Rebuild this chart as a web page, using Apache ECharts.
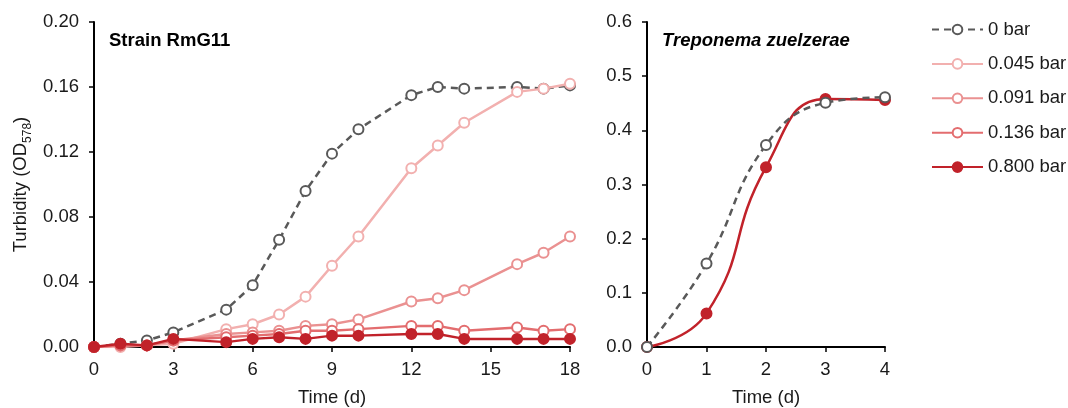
<!DOCTYPE html>
<html>
<head>
<meta charset="utf-8">
<script src="https://cdn.jsdelivr.net/npm/echarts@6/dist/echarts.min.js"></script>
<style>html,body{margin:0;padding:0;background:#fff}#c{width:1068px;height:408px}</style>
</head>
<body>
<div id="c"></div>
<script>
// Left panel: Strain RmG11
const days = [0, 1, 2, 3, 5, 6, 7, 8, 9, 10, 12, 13, 14, 16, 17, 18];
const od0   = [0.000, 0.002, 0.004, 0.009, 0.023, 0.038, 0.066, 0.096, 0.119, 0.134, 0.155, 0.160, 0.159, 0.160, 0.159, 0.161];
const od045 = [0.000, 0.000, 0.001, 0.002, 0.011, 0.014, 0.020, 0.031, 0.050, 0.068, 0.110, 0.124, 0.138, 0.157, 0.159, 0.162];
const od091 = [0.000, 0.001, 0.001, 0.004, 0.008, 0.009, 0.010, 0.013, 0.014, 0.017, 0.028, 0.030, 0.035, 0.051, 0.058, 0.068];
const od136 = [0.000, 0.001, 0.001, 0.004, 0.006, 0.007, 0.008, 0.010, 0.010, 0.011, 0.013, 0.013, 0.010, 0.012, 0.010, 0.011];
const od800 = [0.000, 0.002, 0.001, 0.005, 0.003, 0.005, 0.006, 0.005, 0.007, 0.007, 0.008, 0.008, 0.005, 0.005, 0.005, 0.005];
// Right panel: Treponema zuelzerae
const tdays = [0, 1, 2, 3, 4];
const tz0   = [0.000, 0.154, 0.373, 0.451, 0.461];
const tz800 = [0.000, 0.062, 0.332, 0.458, 0.456];
// Legend / series names
const names = ['0 bar', '0.045 bar', '0.091 bar', '0.136 bar', '0.800 bar'];
const colors = ['#595959', '#F2B0AF', '#EA9191', '#E36D6F', '#C1222A'];

const FONT = 'Liberation Sans, Arial, sans-serif';
const FS = 18.5;
const pair = (xs, ys) => xs.map((x, i) => [x, ys[i]]);

function lineSeries(idx, xi, xs, ys, opts) {
  const c = colors[idx];
  const filled = idx === 4;
  return Object.assign({
    name: names[idx],
    type: 'line',
    xAxisIndex: xi, yAxisIndex: xi,
    data: pair(xs, ys),
    symbol: 'circle',
    symbolSize: 10,
    showSymbol: true,
    lineStyle: { color: c, width: 2.5, type: idx === 0 ? [7, 5] : 'solid' },
    itemStyle: { color: filled ? c : '#fff', borderColor: c, borderWidth: 2 },
    emphasis: { disabled: true },
    animation: false
  }, opts || {});
}

const axisCommon = {
  axisLine: { show: true, lineStyle: { color: '#000', width: 2 } },
  axisTick: { show: true, inside: false, length: 5, lineStyle: { color: '#000', width: 1.5 } },
  splitLine: { show: false },
  axisLabel: { color: '#1a1a1a', fontSize: FS, fontFamily: FONT },
  nameTextStyle: { color: '#1a1a1a', fontSize: FS, fontFamily: FONT }
};

const chart = echarts.init(document.getElementById('c'));
chart.setOption({
  backgroundColor: '#fff',
  animation: false,
  textStyle: { fontFamily: FONT },
  title: [
    { text: 'Strain RmG11', left: 104, top: 26,
      textStyle: { fontSize: FS, fontWeight: 'bold', color: '#000', fontFamily: FONT } },
    { text: 'Treponema zuelzerae', left: 657, top: 26,
      textStyle: { fontSize: FS, fontWeight: 'bold', fontStyle: 'italic', color: '#000', fontFamily: FONT } }
  ],
  legend: {
    orient: 'vertical',
    left: 931, top: 20, padding: 0,
    itemWidth: 51, itemHeight: 12, itemGap: 15.4,
    data: names,
    textStyle: { color: '#1a1a1a', fontSize: FS, fontFamily: FONT },
    selectedMode: false
  },
  grid: [
    { left: 94, top: 22, width: 476, height: 325, outerBoundsMode: 'none', containLabel: false },
    { left: 647, top: 22, width: 238, height: 325, outerBoundsMode: 'none', containLabel: false }
  ],
  xAxis: [
    Object.assign({}, axisCommon, {
      gridIndex: 0, type: 'value', min: 0, max: 18, interval: 3,
      name: 'Time (d)', nameLocation: 'middle', nameGap: 41,
      axisLabel: Object.assign({}, axisCommon.axisLabel, { margin: 13 })
    }),
    Object.assign({}, axisCommon, {
      gridIndex: 1, type: 'value', min: 0, max: 4, interval: 1,
      name: 'Time (d)', nameLocation: 'middle', nameGap: 41,
      axisLabel: Object.assign({}, axisCommon.axisLabel, { margin: 13 })
    })
  ],
  yAxis: [
    Object.assign({}, axisCommon, {
      gridIndex: 0, type: 'value', min: 0, max: 0.2, interval: 0.04,
      axisLabel: Object.assign({}, axisCommon.axisLabel, { margin: 15, formatter: v => v.toFixed(2) }),
      name: '{a|Turbidity (OD}{b|578}{a|)}', nameLocation: 'middle', nameRotate: 90, nameGap: 64,
      nameTextStyle: {
        rich: {
          a: { fontSize: FS, color: '#1a1a1a', fontFamily: FONT, lineHeight: 22, verticalAlign: 'bottom' },
          b: { fontSize: 12, color: '#1a1a1a', fontFamily: FONT, lineHeight: 22, verticalAlign: 'bottom', padding: [0, 0, -4, 0] }
        }
      }
    }),
    Object.assign({}, axisCommon, {
      gridIndex: 1, type: 'value', min: 0, max: 0.6, interval: 0.1,
      axisLabel: Object.assign({}, axisCommon.axisLabel, { margin: 15, formatter: v => v.toFixed(1) })
    })
  ],
  series: [
    lineSeries(0, 0, days, od0, { z: 2 }),
    lineSeries(1, 0, days, od045, { z: 3 }),
    lineSeries(2, 0, days, od091, { z: 4 }),
    lineSeries(3, 0, days, od136, { z: 5 }),
    lineSeries(4, 0, days, od800, { z: 6 }),
    lineSeries(4, 1, tdays, tz800, { z: 3, smooth: 0.5 }),
    lineSeries(0, 1, tdays, tz0, { z: 4, smooth: 0.45 })
  ]
});
</script>
</body>
</html>
